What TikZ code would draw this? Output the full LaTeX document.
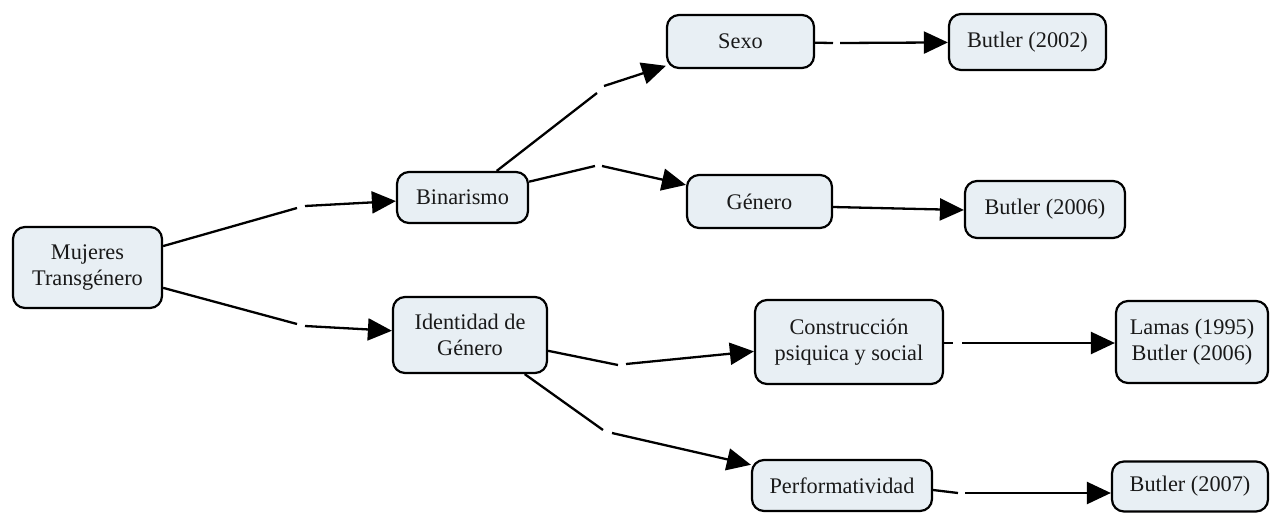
\documentclass[tikz,border=0pt]{standalone}
\usepackage{fontspec}
\setmainfont{Liberation Serif}
\usetikzlibrary{arrows.meta}
\definecolor{boxfill}{RGB}{232,239,244}
\definecolor{txt}{RGB}{25,25,25}
\begin{document}
\begin{tikzpicture}[x=1pt,y=-1pt,
  box/.style={draw=black, line width=2.2pt, fill=boxfill, rounded corners=12pt,
    inner sep=0pt, align=center, text=txt,
    font=\fontsize{22.3}{25.5}\selectfont},
  conn/.style={line width=2.3pt, draw=black},
  arr/.style={conn, -{Triangle[length=24pt,width=22pt]}}]
\useasboundingbox (0,0) rectangle (1270,512);
% nodes
\node[box, minimum width=149pt, minimum height=81pt] (mt) at (87.5,267.5) {Mujeres\\Transgénero};
\node[box, minimum width=131pt, minimum height=51pt] (bin) at (462.5,197.5) {Binarismo};
\node[box, minimum width=154pt, minimum height=76pt] (id) at (470,335) {Identidad de\\Género};
\node[box, minimum width=147pt, minimum height=53pt] (sexo) at (740.5,41.5) {Sexo};
\node[box, minimum width=145pt, minimum height=53pt] (gen) at (759.5,201.5) {Género};
\node[box, minimum width=188pt, minimum height=84pt] (con) at (849,342) {Construcción\\psiquica y social};
\node[box, minimum width=180pt, minimum height=51pt] (perf) at (842,485.5) {Performatividad};
\node[box, minimum width=157pt, minimum height=56pt] (b02) at (1027.5,42) {Butler (2002)};
\node[box, minimum width=160pt, minimum height=57pt] (b06) at (1045,209.5) {Butler (2006)};
\node[box, minimum width=152pt, minimum height=82pt] (lam) at (1192,342) {Lamas (1995)\\Butler (2006)};
\node[box, minimum width=156pt, minimum height=50pt] (b07) at (1190,486.5) {Butler (2007)};
% bend / gap coordinates
\coordinate (a1) at (297,208); \coordinate (b1) at (305,206);
\coordinate (a2) at (297,324); \coordinate (b2) at (305,326);
\coordinate (a3) at (597,93);  \coordinate (b3) at (604,86);
\coordinate (a4) at (595,166); \coordinate (b4) at (602,166);
\coordinate (a5) at (833,43);  \coordinate (b5) at (840,43);
\coordinate (a7) at (618,365); \coordinate (b7) at (626,364);
\coordinate (a8) at (603,430); \coordinate (b8) at (612,433);
\coordinate (a9) at (953,343); \coordinate (b9) at (962,343);
\coordinate (a10) at (958,493); \coordinate (b10) at (965,493);
% connectors
\draw[conn] (mt) -- (a1); \draw[arr] (b1) -- (bin);
\draw[conn] (mt) -- (a2); \draw[arr] (b2) -- (id);
\draw[conn] (bin) -- (a3); \draw[arr] (b3) -- (sexo);
\draw[conn] (bin) -- (a4); \draw[arr] (b4) -- (gen);
\draw[conn] (sexo) -- (a5); \draw[arr] (b5) -- (b02);
\draw[arr] (gen.east |- 0,207) -- (b06.west |- 0,210);
\draw[conn] (id) -- (a7); \draw[arr] (b7) -- (con);
\draw[conn] (id) -- (a8); \draw[arr] (b8) -- (perf);
\draw[conn] (con.east |- a9) -- (a9); \draw[arr] (b9) -- (lam.west |- b9);
\draw[conn] (perf.east |- 0,490) -- (a10); \draw[arr] (b10) -- (b07.west |- b10);
\end{tikzpicture}
\end{document}
